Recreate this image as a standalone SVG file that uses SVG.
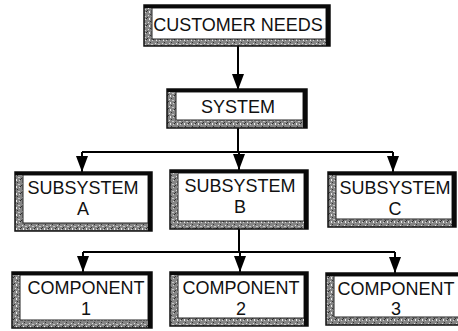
<svg xmlns="http://www.w3.org/2000/svg" width="458" height="331" viewBox="0 0 458 331">
<defs>
<pattern id="stip" width="7" height="7" patternUnits="userSpaceOnUse">
<rect width="7" height="7" fill="#858585"/>
<rect x="1" y="1" width="1" height="1" fill="#e0e0e0"/>
<rect x="4" y="2" width="2" height="1" fill="#c8c8c8"/>
<rect x="2" y="4" width="1" height="2" fill="#ececec"/>
<rect x="5" y="5" width="1" height="1" fill="#d5d5d5"/>
<rect x="0" y="3" width="1" height="1" fill="#333"/>
<rect x="3" y="0" width="1" height="1" fill="#333"/>
<rect x="6" y="4" width="1" height="1" fill="#2a2a2a"/>
</pattern>
<marker id="ah" viewBox="0 0 16 12" refX="16" refY="6" markerWidth="16" markerHeight="12" markerUnits="userSpaceOnUse" orient="auto">
<path d="M0,0 L16,6 L0,12 z" fill="#000"/>
</marker>
</defs>
<style>
.sh{fill:url(#stip);stroke:#111;stroke-width:1.5}
.in{fill:#fff;stroke:#222;stroke-width:1}
.bk{fill:#0a0a0a}
text{font-family:"Liberation Sans",Arial,sans-serif;font-size:18px;fill:#111;text-anchor:middle}
.c{fill:none;stroke:#000;stroke-width:2}
</style>
<rect width="458" height="331" fill="#fff"/>
<g id="connectors">
<path class="c" d="M238,46 V90" marker-end="url(#ah)"/>
<path class="c" d="M238,128 V152 M82,152 H393"/>
<path class="c" d="M82,152 V172" marker-end="url(#ah)"/>
<path class="c" d="M239,152 V170" marker-end="url(#ah)"/>
<path class="c" d="M393,152 V172" marker-end="url(#ah)"/>
<path class="c" d="M239,229 V252 M83,252 H395"/>
<path class="c" d="M83,252 V272" marker-end="url(#ah)"/>
<path class="c" d="M240,252 V272" marker-end="url(#ah)"/>
<path class="c" d="M395,252 V273" marker-end="url(#ah)"/>
</g>
<g id="customer-needs">
<rect class="sh" x="144" y="5" width="186" height="41"/>
<rect class="in" x="152" y="8" width="174" height="31"/>
<rect class="bk" x="144" y="5" width="186" height="3"/>
<rect class="bk" x="326" y="5" width="4" height="41"/>
<text x="238" y="31">CUSTOMER NEEDS</text>
</g>
<g id="system">
<rect class="sh" x="167" y="89" width="140" height="39"/>
<rect class="in" x="176" y="92" width="127" height="28"/>
<rect class="bk" x="167" y="89" width="140" height="3"/>
<rect class="bk" x="303" y="89" width="4" height="39"/>
<text x="238" y="113">SYSTEM</text>
</g>
<g id="subsystem-a">
<rect class="sh" x="15" y="172" width="137" height="59"/>
<rect class="in" x="23" y="175" width="125" height="48"/>
<rect class="bk" x="15" y="172" width="137" height="3"/>
<rect class="bk" x="148" y="172" width="4" height="59"/>
<text x="83" y="194">SUBSYSTEM</text>
<text x="83" y="215">A</text>
</g>
<g id="subsystem-b">
<rect class="sh" x="170" y="170" width="138" height="59"/>
<rect class="in" x="178" y="173" width="126" height="48"/>
<rect class="bk" x="170" y="170" width="138" height="3"/>
<rect class="bk" x="304" y="170" width="4" height="59"/>
<text x="240" y="192">SUBSYSTEM</text>
<text x="240" y="213">B</text>
</g>
<g id="subsystem-c">
<rect class="sh" x="328" y="172" width="128" height="55"/>
<rect class="in" x="336" y="175" width="116" height="44"/>
<rect class="bk" x="328" y="172" width="128" height="3"/>
<rect class="bk" x="452" y="172" width="4" height="55"/>
<text x="395" y="194">SUBSYSTEM</text>
<text x="395" y="215">C</text>
</g>
<g id="component-1">
<rect class="sh" x="12" y="272" width="140" height="56"/>
<rect class="in" x="20" y="275" width="128" height="45"/>
<rect class="bk" x="12" y="272" width="140" height="3"/>
<rect class="bk" x="148" y="272" width="4" height="56"/>
<text x="86" y="294">COMPONENT</text>
<text x="86" y="315">1</text>
</g>
<g id="component-2">
<rect class="sh" x="170" y="272" width="138" height="54"/>
<rect class="in" x="178" y="275" width="126" height="43"/>
<rect class="bk" x="170" y="272" width="138" height="3"/>
<rect class="bk" x="304" y="272" width="4" height="54"/>
<text x="241" y="294">COMPONENT</text>
<text x="241" y="315">2</text>
</g>
<g id="component-3">
<rect class="sh" x="326" y="273" width="134" height="52"/>
<rect class="in" x="334" y="276" width="126" height="41"/>
<rect class="bk" x="326" y="273" width="134" height="3"/>
<text x="396" y="295">COMPONENT</text>
<text x="396" y="315">3</text>
</g>
</svg>
